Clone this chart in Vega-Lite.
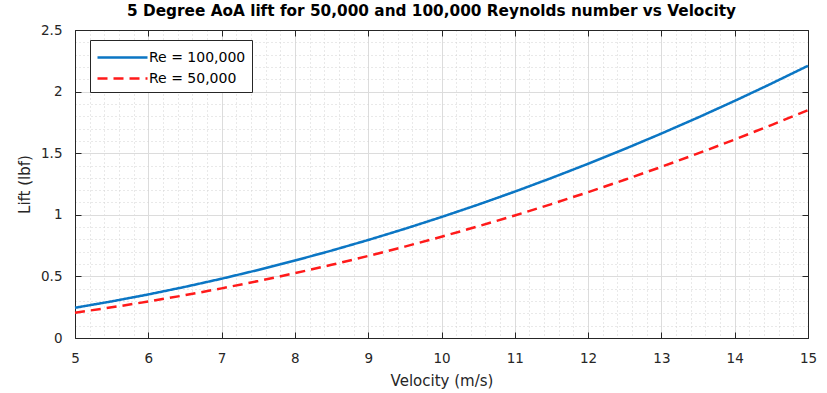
{
  "$schema": "https://vega.github.io/schema/vega-lite/v6.json",
  "width": 733,
  "height": 308,
  "autosize": {"type": "none"},
  "padding": {"left": 75, "top": 30, "right": 19, "bottom": 55},
  "background": "white",
  "config": {
    "font": "DejaVu Sans",
    "view": {"stroke": null},
    "axis": {"labelFont": "DejaVu Sans", "titleFont": "DejaVu Sans", "labelColor": "#262626", "titleColor": "#262626", "labelFontSize": 13.5, "titleFontSize": 15, "titleFontWeight": "normal", "labelFlush": false, "labelOverlap": false}
  },
  "title": {"text": "5 Degree AoA lift for 50,000 and 100,000 Reynolds number vs Velocity", "fontSize": 15.3, "fontWeight": "bold", "color": "#000000", "font": "DejaVu Sans", "anchor": "middle", "offset": 4, "dx": -10},
  "data": {"values": [
    {"V": 5, "Lift": 0.2455, "Series": "Re = 100,000"},
    {"V": 5.5, "Lift": 0.2971, "Series": "Re = 100,000"},
    {"V": 6, "Lift": 0.3535, "Series": "Re = 100,000"},
    {"V": 6.5, "Lift": 0.4149, "Series": "Re = 100,000"},
    {"V": 7, "Lift": 0.4812, "Series": "Re = 100,000"},
    {"V": 7.5, "Lift": 0.5524, "Series": "Re = 100,000"},
    {"V": 8, "Lift": 0.6285, "Series": "Re = 100,000"},
    {"V": 8.5, "Lift": 0.7095, "Series": "Re = 100,000"},
    {"V": 9, "Lift": 0.7954, "Series": "Re = 100,000"},
    {"V": 9.5, "Lift": 0.8863, "Series": "Re = 100,000"},
    {"V": 10, "Lift": 0.982, "Series": "Re = 100,000"},
    {"V": 10.5, "Lift": 1.0826, "Series": "Re = 100,000"},
    {"V": 11, "Lift": 1.1882, "Series": "Re = 100,000"},
    {"V": 11.5, "Lift": 1.2987, "Series": "Re = 100,000"},
    {"V": 12, "Lift": 1.4141, "Series": "Re = 100,000"},
    {"V": 12.5, "Lift": 1.5344, "Series": "Re = 100,000"},
    {"V": 13, "Lift": 1.6596, "Series": "Re = 100,000"},
    {"V": 13.5, "Lift": 1.7897, "Series": "Re = 100,000"},
    {"V": 14, "Lift": 1.9247, "Series": "Re = 100,000"},
    {"V": 14.5, "Lift": 2.0647, "Series": "Re = 100,000"},
    {"V": 15, "Lift": 2.2095, "Series": "Re = 100,000"},
    {"V": 5, "Lift": 0.2055, "Series": "Re = 50,000"},
    {"V": 5.5, "Lift": 0.2487, "Series": "Re = 50,000"},
    {"V": 6, "Lift": 0.2959, "Series": "Re = 50,000"},
    {"V": 6.5, "Lift": 0.3473, "Series": "Re = 50,000"},
    {"V": 7, "Lift": 0.4028, "Series": "Re = 50,000"},
    {"V": 7.5, "Lift": 0.4624, "Series": "Re = 50,000"},
    {"V": 8, "Lift": 0.5261, "Series": "Re = 50,000"},
    {"V": 8.5, "Lift": 0.5939, "Series": "Re = 50,000"},
    {"V": 9, "Lift": 0.6658, "Series": "Re = 50,000"},
    {"V": 9.5, "Lift": 0.7419, "Series": "Re = 50,000"},
    {"V": 10, "Lift": 0.822, "Series": "Re = 50,000"},
    {"V": 10.5, "Lift": 0.9062, "Series": "Re = 50,000"},
    {"V": 11, "Lift": 0.9946, "Series": "Re = 50,000"},
    {"V": 11.5, "Lift": 1.0871, "Series": "Re = 50,000"},
    {"V": 12, "Lift": 1.1837, "Series": "Re = 50,000"},
    {"V": 12.5, "Lift": 1.2844, "Series": "Re = 50,000"},
    {"V": 13, "Lift": 1.3892, "Series": "Re = 50,000"},
    {"V": 13.5, "Lift": 1.4981, "Series": "Re = 50,000"},
    {"V": 14, "Lift": 1.6111, "Series": "Re = 50,000"},
    {"V": 14.5, "Lift": 1.7282, "Series": "Re = 50,000"},
    {"V": 15, "Lift": 1.8495, "Series": "Re = 50,000"}
  ]},
  "resolve": {"axis": {"x": "independent", "y": "independent"}},
  "layer": [
    {
      "mark": {"type": "line", "opacity": 0},
      "encoding": {
        "x": {"field": "V", "type": "quantitative", "scale": {"domain": [5, 15], "nice": false, "zero": false},
              "axis": {"orient": "bottom", "title": null, "labels": false, "ticks": false, "domain": false, "grid": true, "tickCount": 50, "gridColor": "#d3d3d3", "gridDash": [1, 3], "gridWidth": 1}},
        "y": {"field": "Lift", "type": "quantitative", "scale": {"domain": [0, 2.5], "nice": false},
              "axis": {"orient": "left", "title": null, "labels": false, "ticks": false, "domain": false, "grid": true, "tickCount": 25, "gridColor": "#d3d3d3", "gridDash": [1, 3], "gridWidth": 1}},
        "detail": {"field": "Series"}
      }
    },
    {
      "mark": {"type": "line", "opacity": 0},
      "encoding": {
        "x": {"field": "V", "type": "quantitative",
              "axis": {"orient": "bottom", "title": "Velocity (m/s)", "values": [5, 6, 7, 8, 9, 10, 11, 12, 13, 14, 15], "format": "d", "grid": true, "gridColor": "#dcdcdc", "gridWidth": 1, "domainColor": "#262626", "tickColor": "#262626", "tickSize": -6, "labelPadding": 19, "titlePadding": 9}},
        "y": {"field": "Lift", "type": "quantitative",
              "axis": {"orient": "left", "title": "Lift (lbf)", "values": [0, 0.5, 1, 1.5, 2, 2.5], "format": "~g", "grid": true, "gridColor": "#dcdcdc", "gridWidth": 1, "domainColor": "#262626", "tickColor": "#262626", "tickSize": -6, "labelPadding": 19, "titlePadding": 8}},
        "detail": {"field": "Series"}
      }
    },
    {
      "mark": {"type": "line", "opacity": 0},
      "encoding": {
        "x": {"field": "V", "type": "quantitative",
              "axis": {"orient": "top", "title": null, "labels": false, "values": [5, 6, 7, 8, 9, 10, 11, 12, 13, 14, 15], "grid": false, "domainColor": "#262626", "tickColor": "#262626", "tickSize": -6}},
        "y": {"field": "Lift", "type": "quantitative",
              "axis": {"orient": "right", "title": null, "labels": false, "values": [0, 0.5, 1, 1.5, 2, 2.5], "grid": false, "domainColor": "#262626", "tickColor": "#262626", "tickSize": -6}},
        "detail": {"field": "Series"}
      }
    },
    {
      "mark": {"type": "line", "strokeWidth": 2.5},
      "encoding": {
        "x": {"field": "V", "type": "quantitative", "axis": null},
        "y": {"field": "Lift", "type": "quantitative", "axis": null},
        "color": {"field": "Series", "type": "nominal",
                  "scale": {"domain": ["Re = 100,000", "Re = 50,000"], "range": ["#0B76C4", "#FF1A1A"]},
                  "legend": {"title": null, "orient": "none", "legendX": 15, "legendY": 10, "symbolType": "M-1,0H4", "symbolSize": 400, "symbolStrokeWidth": 2.5,
                             "labelFontSize": 14, "labelColor": "#000000", "labelFont": "DejaVu Sans", "strokeColor": "#262626", "fillColor": "white", "padding": 6, "rowPadding": 2, "labelOffset": 30}},
        "strokeDash": {"field": "Series", "type": "nominal",
                       "scale": {"domain": ["Re = 100,000", "Re = 50,000"], "range": [[1, 0], [10, 6]]},
                       "legend": null}
      }
    }
  ]
}
